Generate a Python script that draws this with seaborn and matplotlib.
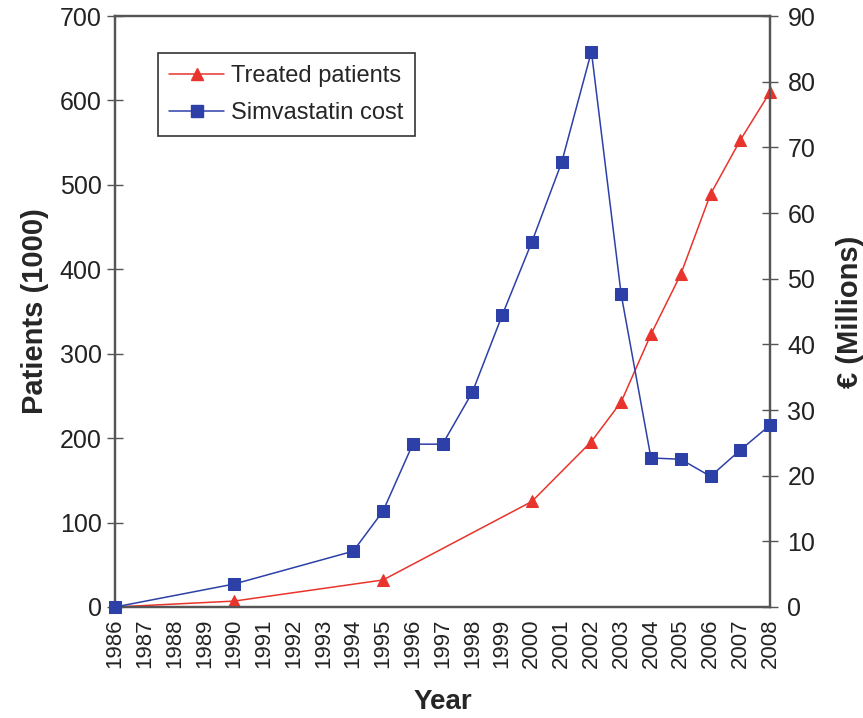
import matplotlib
matplotlib.use("Agg")
import matplotlib.pyplot as plt
import seaborn as sns
import pandas as pd
from matplotlib.lines import Line2D

# ---- data ----
patient_years = [1986, 1990, 1995, 2000, 2002, 2003, 2004, 2005, 2006, 2007, 2008]
patients = [0, 7, 32, 125, 196, 243, 323, 394, 489, 553, 610]

cost_years = [1986, 1990, 1994, 1995, 1996, 1997, 1998, 1999, 2000, 2001,
              2002, 2003, 2004, 2005, 2006, 2007, 2008]
cost = [0, 3.5, 8.5, 14.6, 24.8, 24.8, 32.7, 44.4, 55.6, 67.7,
        84.6, 47.6, 22.7, 22.5, 19.9, 23.9, 27.7]

year_ticks = list(range(1986, 2009))
left_ticks = list(range(0, 701, 100))
right_ticks = list(range(0, 91, 10))

sns.set_theme(style="white")
plt.rcParams['font.family'] = ['Liberation Sans', 'DejaVu Sans']

RED = "#e8342c"
BLUE = "#2c40a8"
AX = "#555555"

fig = plt.figure(figsize=(8.63, 7.18), dpi=100)
ax = fig.add_axes([0.1333, 0.1546, 0.759, 0.823])
ax2 = ax.twinx()

df_p = pd.DataFrame({"year": patient_years, "val": patients})
df_c = pd.DataFrame({"year": cost_years, "val": cost})

sns.lineplot(data=df_p, x="year", y="val", ax=ax, color=RED, marker="^",
             markersize=9, markeredgecolor=RED, linewidth=1.1, zorder=3,
             clip_on=False)
sns.lineplot(data=df_c, x="year", y="val", ax=ax2, color=BLUE, marker="s",
             markersize=8, markeredgecolor=BLUE, linewidth=1.1, zorder=3,
             clip_on=False)

ax.set_xlim(1986, 2008)
ax.set_ylim(0, 700)
ax2.set_ylim(0, 90)
ax.set_xticks(year_ticks)
ax.set_xticklabels([str(y) for y in year_ticks], rotation=90, fontsize=16, color="#222222")
ax.set_yticks(left_ticks)
ax.set_yticklabels([str(v) for v in left_ticks], fontsize=18, color="#222222")
ax2.set_yticks(right_ticks)
ax2.set_yticklabels([str(v) for v in right_ticks], fontsize=18, color="#222222")

for a in (ax, ax2):
    a.tick_params(axis="both", direction="inout", length=11, width=1.0,
                  color=AX, pad=4)
    for s in a.spines.values():
        s.set_color(AX)
        s.set_linewidth(1.6)
    a.grid(False)
ax.tick_params(axis="x", pad=3)
ax2.tick_params(axis="y", pad=7)

ax.set_xlabel("Year", fontsize=20, fontweight="bold", labelpad=15)
ax.set_ylabel("Patients (1000)", fontsize=21, fontweight="bold", labelpad=8)
ax2.set_ylabel("€ (Millions)", fontsize=21, fontweight="bold", labelpad=15)

handles = [
    Line2D([], [], color=RED, marker="^", markersize=9, linewidth=1.1),
    Line2D([], [], color=BLUE, marker="s", markersize=8, linewidth=1.1),
]
leg = ax2.legend(handles, ["Treated patients", "Simvastatin cost"],
                 loc="upper left", bbox_to_anchor=(0.065, 0.937),
                 borderaxespad=0,
                 fontsize=17, frameon=True, fancybox=False, framealpha=1,
                 edgecolor="#333333", handlelength=2.3, borderpad=0.5,
                 labelspacing=0.65, handletextpad=0.3)
leg.get_frame().set_linewidth(1.2)

fig.savefig("out.png", dpi=100)
